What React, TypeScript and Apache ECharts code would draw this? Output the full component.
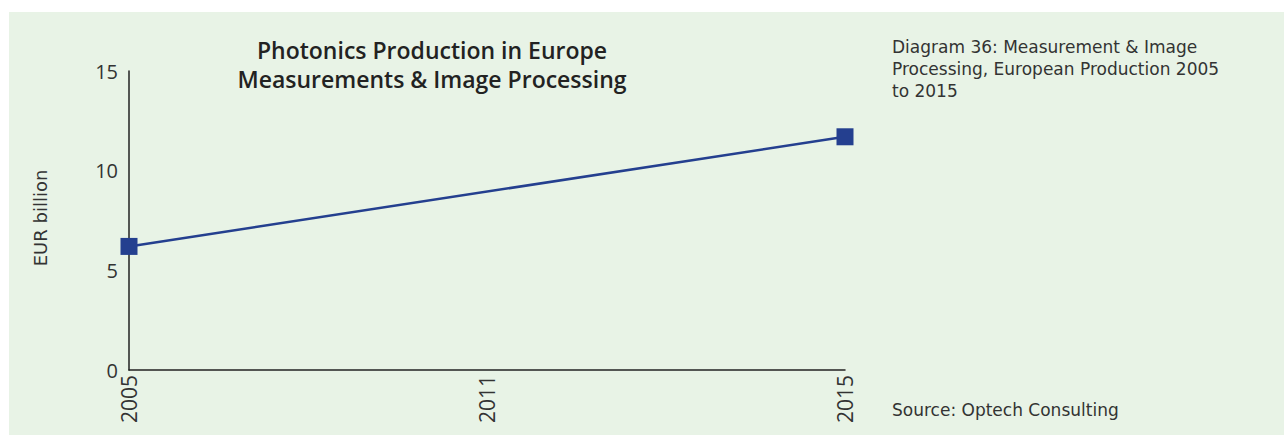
import React, { useEffect, useRef } from "react";
import * as echarts from "echarts";

const years = ["2005", "2011", "2015"];
const production = [6.2, null, 11.7];
const yTicks = [0, 5, 10, 15];

const titleLines = ["Photonics Production in Europe", "Measurements & Image Processing"];
const captionText = "Diagram 36: Measurement & Image\nProcessing, European Production 2005\nto 2015";
const sourceText = "Source: Optech Consulting";
const yAxisName = "EUR billion";

export default function App() {
  const ref = useRef<HTMLDivElement>(null);
  useEffect(() => {
    if (!ref.current) return;
    const chart = echarts.init(ref.current, null, { renderer: "svg" });
    const open = "'Open Sans', 'Noto Sans', sans-serif";
    const wide = "'DejaVu Sans', sans-serif";
    chart.setOption({
      animation: false,
      backgroundColor: "#ffffff",
      textStyle: { fontFamily: open },
      grid: { left: 129, top: 71, right: 439, bottom: 65 },
      xAxis: {
        type: "category",
        data: years,
        boundaryGap: false,
        axisLine: { lineStyle: { color: "#222", width: 1.5 } },
        axisTick: { show: false },
        axisLabel: {
          rotate: 90,
          fontSize: 21,
          color: "#333",
          margin: 5,
          fontFamily: open,
        },
        splitLine: { show: false },
      },
      yAxis: {
        type: "value",
        min: yTicks[0],
        max: yTicks[yTicks.length - 1],
        interval: 5,
        axisLine: { show: true, lineStyle: { color: "#222", width: 1.5 } },
        axisTick: { show: false },
        splitLine: { show: false },
        axisLabel: {
          fontSize: 20,
          color: "#333",
          margin: 11,
          padding: [6, 0, 0, 0],
          fontFamily: open,
        },
      },
      series: [
        {
          type: "line",
          data: production,
          connectNulls: true,
          symbol: "rect",
          symbolSize: 17,
          lineStyle: { color: "#243f8f", width: 2.5 },
          itemStyle: { color: "#243f8f" },
        },
      ],
      graphic: [
        {
          type: "rect",
          z: -10,
          silent: true,
          shape: { x: 9, y: 12, width: 1290, height: 430 },
          style: { fill: "#e8f3e6" },
        },
        {
          type: "text",
          x: 432,
          y: 64.5,
          style: {
            text: titleLines.join("\n"),
            font: `600 23px ${open}`,
            fill: "#222",
            align: "center",
            verticalAlign: "middle",
            lineHeight: 29,
          },
        },
        {
          type: "text",
          x: 892,
          y: 36,
          style: {
            text: captionText,
            font: `17px ${wide}`,
            fill: "#333",
            lineHeight: 22,
          },
        },
        {
          type: "text",
          x: 892,
          y: 410,
          style: {
            text: sourceText,
            font: `17px ${wide}`,
            fill: "#333",
            verticalAlign: "middle",
          },
        },
        {
          type: "text",
          x: 40,
          y: 218,
          rotation: Math.PI / 2,
          style: {
            text: yAxisName,
            font: `18px ${wide}`,
            fill: "#333",
            align: "center",
            verticalAlign: "middle",
          },
        },
      ],
    });
    return () => chart.dispose();
  }, []);
  return (
    <div
      ref={ref}
      style={{ position: "absolute", left: 0, top: 0, width: 1284, height: 435 }}
    />
  );
}
